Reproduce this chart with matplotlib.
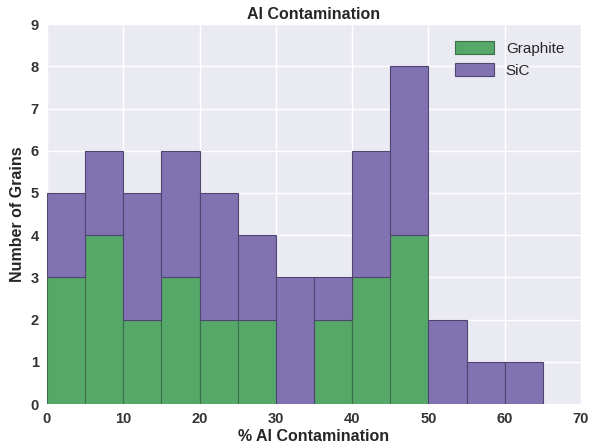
import matplotlib.pyplot as plt
import numpy as np

# bin left edges (% Al contamination), width 5
bin_edges = [0, 5, 10, 15, 20, 25, 30, 35, 40, 45, 50, 55, 60, 65]
graphite_counts = [3, 4, 2, 3, 2, 2, 0, 2, 3, 4, 0, 0, 0]
sic_counts = [2, 2, 3, 3, 3, 2, 3, 1, 3, 4, 2, 1, 1]

plt.rcParams["font.family"] = ["Liberation Sans", "DejaVu Sans"]
plt.rcParams["font.weight"] = "bold"

fig = plt.figure(figsize=(5.91, 4.46), dpi=100)
ax = fig.add_axes([0.0795, 0.094, 0.9035, 0.852])
ax.set_facecolor("#EAEAF2")
ax.set_axisbelow(True)
ax.grid(True, color="white", linewidth=1.0)
for spine in ax.spines.values():
    spine.set_visible(False)

lefts = np.array(bin_edges[:-1])
widths = np.diff(bin_edges)
graphite = np.array(graphite_counts)
sic = np.array(sic_counts)

ax.bar(lefts, graphite, width=widths, align="edge", color="#55A868",
       edgecolor="#3d6e4a", linewidth=0.8, label="Graphite")
ax.bar(lefts, sic, width=widths, bottom=graphite, align="edge", color="#8172B2",
       edgecolor="#4f4570", linewidth=0.8, label="SiC")

ax.set_xlim(0, 70)
ax.set_ylim(0, 9)
ax.set_xticks(range(0, 71, 10))
ax.set_yticks(range(0, 10))
ax.tick_params(length=0, labelsize=10.5, pad=6, colors="#333333")
for lbl in ax.get_xticklabels() + ax.get_yticklabels():
    lbl.set_fontweight("bold")

ax.set_xlabel("% Al Contamination", fontsize=11.5, fontweight="bold", color="#262626", labelpad=2)
ax.set_ylabel("Number of Grains", fontsize=11.5, fontweight="bold", color="#262626", labelpad=4)
ax.set_title("Al Contamination", fontsize=11.5, fontweight="bold", color="#262626", pad=4)

leg = ax.legend(loc="upper right", frameon=False, fontsize=11, handlelength=2.5,
                handleheight=0.9, borderaxespad=0.7)
for t in leg.get_texts():
    t.set_fontweight("normal")
    t.set_color("#262626")

fig.savefig("out.png", dpi=100)
